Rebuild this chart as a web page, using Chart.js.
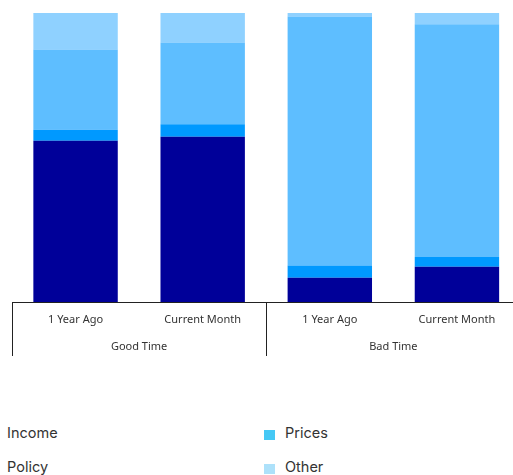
<!DOCTYPE html>
<html>
<head>
<meta charset="utf-8">
<script src="https://cdn.jsdelivr.net/npm/chart.js@4.4.1/dist/chart.umd.min.js"></script>
<style>
  html, body { margin: 0; padding: 0; background: #fff; }
  body { width: 513px; height: 475px; overflow: hidden; position: relative; }
  #chartWrap { position: absolute; left: 0; top: 0; width: 530px; height: 360px; }
  #legend {
    position: absolute; left: -14px; top: 415px;
    display: grid; grid-template-columns: 278px 278px; grid-auto-rows: 34px;
    font: 14.5px "Inter", "Noto Sans", sans-serif; color: #333;
  }
  .legend-item { display: flex; align-items: center; }
  .legend-box { width: 11px; height: 10px; margin-right: 10px; position: relative; top: 3px; }
</style>
</head>
<body>
<div id="chartWrap"><canvas id="chart" width="530" height="360"></canvas></div>
<div id="legend"></div>
<script>
const categories = ["1 Year Ago", "Current Month", "1 Year Ago", "Current Month"];
const groupNames = ["Good Time", "Bad Time"];
const groupSizes = [2, 2];

const seriesNames = ["Income", "Policy", "Prices", "Other"];
const income = [55.8, 57.2, 8.4, 12.2];
const policy = [3.8, 4.3, 4.2, 3.4];
const prices = [27.8, 28.3, 86.2, 80.5];
const other = [12.6, 10.2, 1.2, 3.9];

const barColors = ["#000099", "#0099ff", "#5ebeff", "#8fd1ff"];
const legendColors = ["#000099", "#0099ff", "#45c8f5", "#ade1fa"];

const axisFont = '"Noto Sans", "Open Sans", sans-serif';

// category groups drawn under the tick labels, with separators between them
const groupAxisPlugin = {
  id: "groupAxis",
  afterDraw(chart) {
    const xs = chart.scales.x;
    const ctx = chart.ctx;
    const step = xs.getPixelForValue(1) - xs.getPixelForValue(0);
    let start = 0;
    ctx.save();
    ctx.strokeStyle = "#222";
    ctx.lineWidth = 1;
    ctx.fillStyle = "#333";
    ctx.font = "11px " + axisFont;
    ctx.textAlign = "center";
    ctx.textBaseline = "middle";
    groupSizes.forEach((size, i) => {
      const left = xs.getPixelForValue(start) - step / 2;
      const right = xs.getPixelForValue(start + size - 1) + step / 2;
      const x = Math.round(left) + 0.5;
      ctx.beginPath();
      ctx.moveTo(x, xs.top);
      ctx.lineTo(x, 356);
      ctx.stroke();
      ctx.fillText(groupNames[i], (left + right) / 2, 346.5);
      start += size;
    });
    ctx.restore();
  }
};

const seriesData = [income, policy, prices, other];

new Chart(document.getElementById("chart"), {
  type: "bar",
  data: {
    labels: categories,
    datasets: seriesNames.map((name, i) => ({
      label: name,
      data: seriesData[i],
      backgroundColor: barColors[i],
      borderWidth: 0,
      barPercentage: 1,
      categoryPercentage: 0.664
    }))
  },
  options: {
    responsive: false,
    animation: false,
    layout: { padding: { left: 12, top: 13, right: 9.5, bottom: 0 } },
    plugins: {
      legend: { display: false },
      tooltip: { enabled: false }
    },
    scales: {
      x: {
        stacked: true,
        grid: { display: false, drawTicks: false },
        border: { display: true, color: "#222", width: 1 },
        ticks: {
          color: "#333",
          padding: 11,
          font: { size: 11, family: axisFont }
        },
        afterFit(scale) { scale.height = 58; }
      },
      y: {
        stacked: true,
        display: false,
        min: 0,
        max: 100
      }
    }
  },
  plugins: [groupAxisPlugin]
});

const legendEl = document.getElementById("legend");
// two columns: Income / Prices on the first row, Policy / Other on the second
[0, 2, 1, 3].forEach((i) => {
  const item = document.createElement("div");
  item.className = "legend-item";
  const box = document.createElement("span");
  box.className = "legend-box";
  box.style.background = legendColors[i];
  const text = document.createElement("span");
  text.textContent = seriesNames[i];
  item.appendChild(box);
  item.appendChild(text);
  legendEl.appendChild(item);
});
</script>
</body>
</html>
